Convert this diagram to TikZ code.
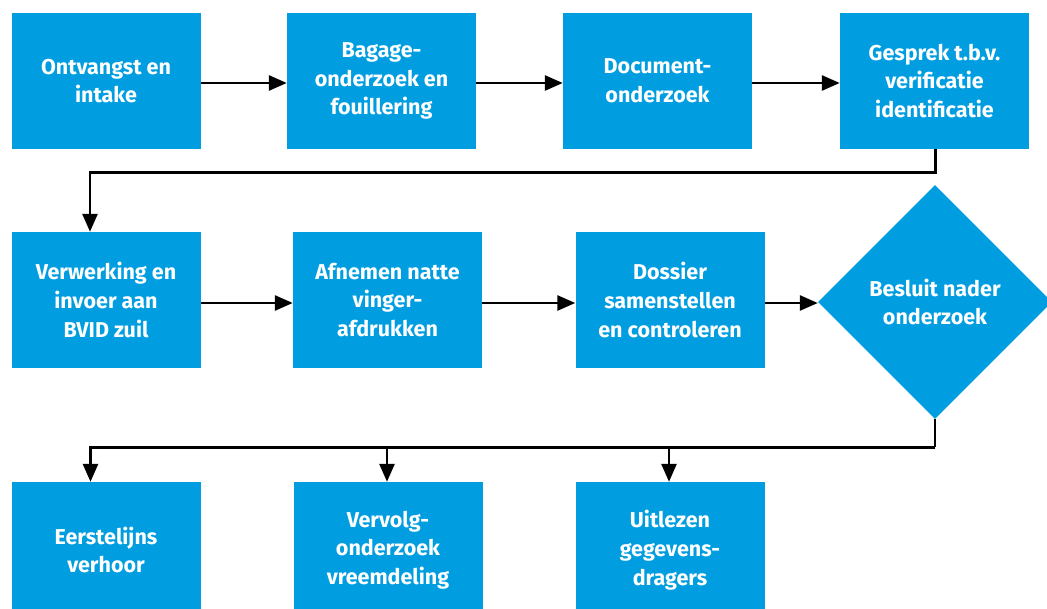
\documentclass[tikz,border=0pt]{standalone}
\usepackage{fontspec}
\setmainfont{Fira Sans}
\usetikzlibrary{positioning,shapes.geometric,arrows.meta}
\definecolor{stapblauw}{RGB}{0,158,224}

\tikzset{
  stap/.style={fill=stapblauw, text=white, minimum width=189pt, minimum height=136pt,
    inner sep=0pt, align=center, font=\bfseries\fontsize{21.5}{28.7}\selectfont},
  keuze/.style={stap, diamond, aspect=1, minimum width=234pt, minimum height=234pt},
  lijn/.style={line width=2.8pt},
  pijl/.style={lijn, -{Triangle[length=18pt,width=15pt]}}
}

\begin{document}
\begin{tikzpicture}[x=1pt,y=-1pt]
    \useasboundingbox (0,0) rectangle (1047,608);
    % eerste rij
    \node[stap] (ontvangst) at (106,81) {Ontvangst en\\intake};
    \node[stap] (bagage) at (381.5,81) {Bagage-\\onderzoek en\\fouillering};
    \node[stap] (document) at (657.5,81) {Document-\\onderzoek};
    \node[stap] (gesprek) at (934.5,81) {Gesprek t.b.v.\\verificatie\\identificatie};
    % tweede rij
    \node[stap] (verwerking) at (106,300) {Verwerking en\\invoer aan\\BVID zuil};
    \node[stap] (afnemen) at (387.5,300) {Afnemen natte\\vinger-\\afdrukken};
    \node[stap] (dossier) at (670,300) {Dossier\\samenstellen\\en controleren};
    \node[keuze] (besluit) at (935,302) {Besluit nader\\onderzoek};
    % derde rij
    \node[stap] (eerste) at (106,550) {Eerstelijns\\verhoor};
    \node[stap] (vervolg) at (388,550) {Vervolg-\\onderzoek\\vreemdeling};
    \node[stap] (uitlezen) at (670,550) {Uitlezen\\gegevens-\\dragers};

    \draw[pijl] ([yshift=-2pt]ontvangst.east) -- ([yshift=-2pt]bagage.west);
    \draw[pijl] ([yshift=-2pt]bagage.east) -- ([yshift=-2pt]document.west);
    \draw[pijl] ([yshift=-2pt]document.east) -- ([yshift=-2pt]gesprek.west);
    \draw[pijl] ([xshift=1pt]gesprek.south) -- ++(0,23.5) -| ([xshift=-16pt]verwerking.north);
    \draw[pijl] ([yshift=-3pt]verwerking.east) -- ([yshift=-3pt]afnemen.west);
    \draw[pijl] ([yshift=-3pt]afnemen.east) -- ([yshift=-3pt]dossier.west);
    \draw[pijl] ([yshift=-3pt]dossier.east) -- ([yshift=-1pt]besluit.west);
    \draw[lijn] (besluit.south) -- ++(0,28) coordinate (splitsing);
    \draw[pijl] (splitsing) -| ([xshift=-15.5pt]eerste.north);
    \draw[pijl] (splitsing) -| ([xshift=-1pt]vervolg.north);
    \draw[pijl] (splitsing) -| ([xshift=-1pt]uitlezen.north);
\end{tikzpicture}
\end{document}
